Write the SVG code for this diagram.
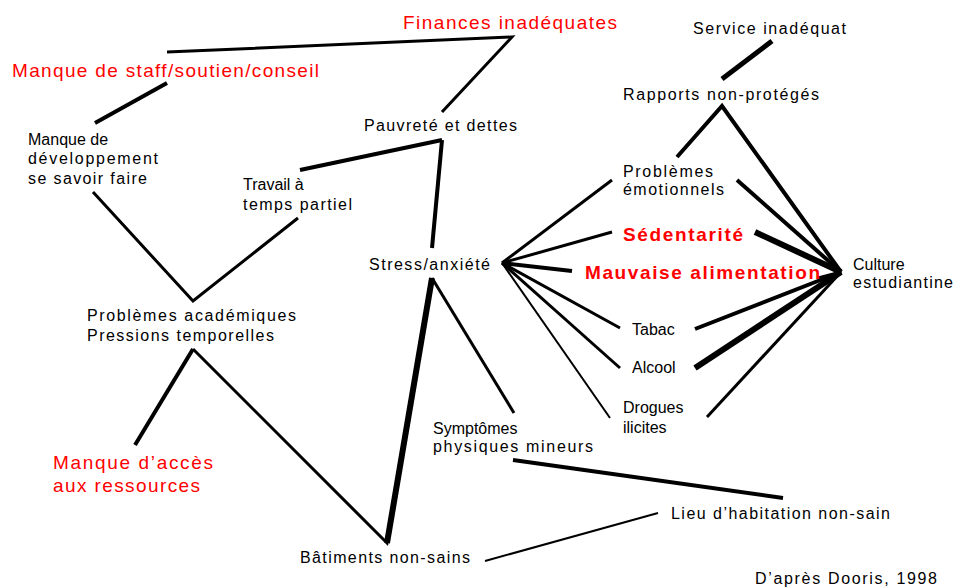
<svg xmlns="http://www.w3.org/2000/svg" width="955" height="588" viewBox="0 0 955 588">
<style>
.t{font-family:"Liberation Sans",Arial,sans-serif;font-size:16px;fill:#000}
.r{font-family:"Liberation Sans",Arial,sans-serif;font-size:19px;fill:#ff0000}
.rb{font-family:"Liberation Sans",Arial,sans-serif;font-size:19px;font-weight:bold;fill:#ff0000}
.c{fill:none;stroke:#000;stroke-linejoin:miter}
.w2{stroke-width:2}
.w3{stroke-width:3}
.w4{stroke-width:4}
.w5{stroke-width:5}
.w6{stroke-width:6}
</style>
<rect width="955" height="588" fill="#fff"/>
<g id="connectors">
<polyline class="c w3" points="167,52 512,37 442,112"/>
<line class="c w4" x1="167" y1="83" x2="95" y2="123"/>
<line class="c w4" x1="442" y1="140" x2="300" y2="170"/>
<line class="c w4" x1="442" y1="140" x2="432" y2="248"/>
<polyline class="c w3" points="93,192 193,301 298,218"/>
<line class="c w4" x1="193" y1="349" x2="135" y2="445"/>
<polyline class="c w3" points="193,349 387,543 432,278"/>
<line class="c w6" x1="387" y1="543" x2="432" y2="278"/>
<line class="c w3" x1="432" y1="278" x2="514" y2="413"/>
<line class="c w4" x1="513" y1="460" x2="783" y2="498"/>
<line class="c w2" x1="658" y1="513" x2="485" y2="561"/>
<line class="c w5" x1="772" y1="41" x2="722" y2="79"/>
<polyline class="c w4" points="677,157 722,106 841,272"/>
<line class="c w3" x1="502" y1="263" x2="612" y2="180"/>
<line class="c w3" x1="502" y1="263" x2="612" y2="232"/>
<line class="c w4" x1="502" y1="263" x2="572" y2="271"/>
<line class="c w3" x1="502" y1="263" x2="620" y2="328"/>
<line class="c w3" x1="502" y1="263" x2="620" y2="368"/>
<line class="c w2" x1="502" y1="263" x2="610" y2="418"/>
<line class="c w4" x1="737" y1="180" x2="841" y2="272"/>
<line class="c w6" x1="755" y1="232" x2="841" y2="272"/>
<line class="c w3" x1="818" y1="278" x2="841" y2="272"/>
<line class="c w4" x1="695" y1="329" x2="841" y2="272"/>
<line class="c w6" x1="695" y1="368" x2="841" y2="272"/>
<line class="c w3" x1="707" y1="417" x2="841" y2="272"/>
</g>
<g id="finances"><text class="r" x="403" y="29" textLength="214">Finances inadéquates</text></g>
<g id="staff"><text class="r" x="12" y="77" textLength="307">Manque de staff/soutien/conseil</text></g>
<g id="service"><text class="t" x="693" y="34" textLength="153">Service inadéquat</text></g>
<g id="rapports"><text class="t" x="623" y="100" textLength="196">Rapports non-protégés</text></g>
<g id="pauvrete"><text class="t" x="364" y="131" textLength="153">Pauvreté et dettes</text></g>
<g id="developpement">
<text class="t" x="28" y="145">Manque de</text>
<text class="t" x="28" y="164" textLength="130">développement</text>
<text class="t" x="28" y="184" textLength="119">se savoir faire</text>
</g>
<g id="travail">
<text class="t" x="243" y="190">Travail à</text>
<text class="t" x="243" y="210" textLength="109">temps partiel</text>
</g>
<g id="emotionnels">
<text class="t" x="623" y="177" textLength="90">Problèmes</text>
<text class="t" x="623" y="195" textLength="101">émotionnels</text>
</g>
<g id="sedentarite"><text class="rb" x="623" y="241" textLength="120">Sédentarité</text></g>
<g id="alimentation"><text class="rb" x="585" y="279" textLength="235">Mauvaise alimentation</text></g>
<g id="culture">
<text class="t" x="853" y="270">Culture</text>
<text class="t" x="853" y="288" textLength="100">estudiantine</text>
</g>
<g id="stress"><text class="t" x="369" y="270" textLength="121">Stress/anxiété</text></g>
<g id="academiques">
<text class="t" x="87" y="321" textLength="209">Problèmes académiques</text>
<text class="t" x="87" y="341" textLength="187">Pressions temporelles</text>
</g>
<g id="tabac"><text class="t" x="632" y="335">Tabac</text></g>
<g id="alcool"><text class="t" x="632" y="373">Alcool</text></g>
<g id="drogues">
<text class="t" x="623" y="413">Drogues</text>
<text class="t" x="623" y="433">ilicites</text>
</g>
<g id="symptomes">
<text class="t" x="433" y="434">Symptômes</text>
<text class="t" x="433" y="452" textLength="160">physiques mineurs</text>
</g>
<g id="acces">
<text class="r" x="53" y="469" textLength="160">Manque d’accès</text>
<text class="r" x="53" y="492" textLength="147">aux ressources</text>
</g>
<g id="lieu"><text class="t" x="671" y="519" textLength="219">Lieu d’habitation non-sain</text></g>
<g id="batiments"><text class="t" x="300" y="563" textLength="170">Bâtiments non-sains</text></g>
<g id="source"><text class="t" x="755" y="584" textLength="182">D’après Dooris, 1998</text></g>
</svg>
